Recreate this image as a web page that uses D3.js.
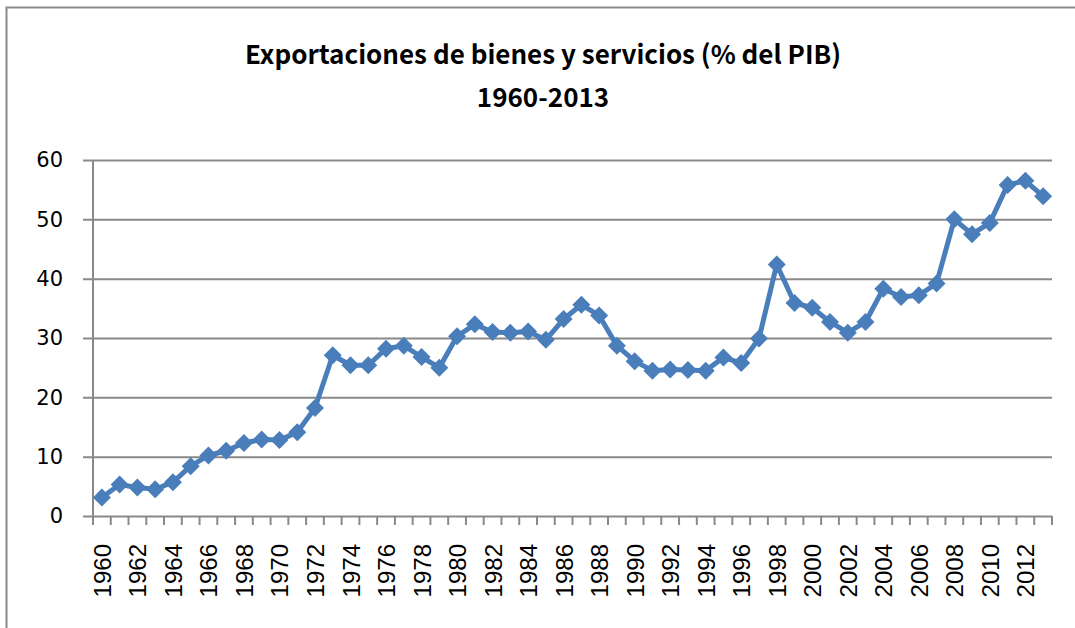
<!DOCTYPE html>
<html>
<head>
<meta charset="utf-8">
<script src="https://cdn.jsdelivr.net/npm/d3@7"></script>
<style>
  body { margin: 0; background: #fff; }
  svg { display: block; }
</style>
</head>
<body>
<script>
// years on the category axis
var years = d3.range(1960, 2014).map(String);

// exports of goods and services, % of GDP
var exportsPct = [
  3.1, 5.3, 4.8, 4.5, 5.7, 8.4, 10.2, 11.0, 12.3, 12.9,
  12.8, 14.1, 18.2, 27.1, 25.4, 25.4, 28.2, 28.7, 26.8, 25.0,
  30.3, 32.3, 31.0, 30.9, 31.1, 29.7, 33.2, 35.6, 33.8, 28.7,
  26.1, 24.5, 24.7, 24.6, 24.5, 26.7, 25.8, 29.9, 42.4, 35.9,
  35.1, 32.7, 30.9, 32.7, 38.3, 36.9, 37.2, 39.2, 50.0, 47.5,
  49.4, 55.8, 56.5, 53.9
];

var yTicks = [0, 10, 20, 30, 40, 50, 60];
var titleLines = ["Exportaciones de bienes y servicios (% del PIB)", "1960-2013"];

var width = 1075, height = 628;
var margin = { top: 160, right: 23, bottom: 112, left: 93 };
var gray = "#898989";
var blue = "#4a7ebb";

var svg = d3.select("body").append("svg")
    .attr("width", width)
    .attr("height", height);

// outer chart frame
svg.append("rect")
    .attr("x", 6.5).attr("y", 7.5)
    .attr("width", 1100).attr("height", 700)
    .attr("fill", "#fff")
    .attr("stroke", gray)
    .attr("stroke-width", 2);

svg.selectAll("text.title")
    .data(titleLines)
    .enter().append("text")
    .attr("class", "title")
    .attr("x", 543)
    .attr("y", (d, i) => 64 + i * 43)
    .attr("text-anchor", "middle")
    .style("font-family", "'Noto Sans CJK KR', 'Noto Sans', sans-serif")
    .style("font-weight", "bold")
    .style("font-size", "26px")
    .attr("fill", "#000")
    .text(d => d);

var x = d3.scaleBand()
    .domain(years)
    .range([margin.left, width - margin.right]);

var y = d3.scaleLinear()
    .domain([0, 60])
    .range([height - margin.bottom, margin.top]);

// gridlines + y axis
var yAxis = d3.axisLeft(y)
    .tickValues(yTicks)
    .tickSize(-(width - margin.right - margin.left))
    .tickSizeOuter(0)
    .tickPadding(30)
    .tickFormat(d3.format("d"));

var gy = svg.append("g")
    .attr("transform", "translate(" + margin.left + ",0)")
    .call(yAxis);

gy.select(".domain").remove();
gy.selectAll(".tick line")
    .attr("x1", -10)
    .attr("stroke", gray)
    .attr("stroke-width", 2);
gy.selectAll(".tick text")
    .style("font-family", "'DejaVu Sans', sans-serif")
    .style("font-size", "21px")
    .attr("fill", "#000");

svg.append("line")
    .attr("x1", margin.left).attr("x2", margin.left)
    .attr("y1", y(60)).attr("y2", y(0))
    .attr("stroke", gray)
    .attr("stroke-width", 2);

// x axis: tick marks on category boundaries
var boundaries = years.map(d => x(d)).concat([x.range()[1]]);
svg.append("g")
    .selectAll("line")
    .data(boundaries)
    .enter().append("line")
    .attr("x1", d => d).attr("x2", d => d)
    .attr("y1", y(0)).attr("y2", y(0) + 9)
    .attr("stroke", gray)
    .attr("stroke-width", 2);

svg.append("g")
    .selectAll("text")
    .data(years.filter((d, i) => i % 2 === 0))
    .enter().append("text")
    .attr("transform", d => "translate(" + (x(d) + x.bandwidth() / 2 + 9) + "," + (y(0) + 28) + ") rotate(-90)")
    .attr("text-anchor", "end")
    .style("font-family", "'Liberation Sans', Arial, sans-serif")
    .style("font-size", "24px")
    .attr("fill", "#000")
    .text(d => d);

// series
var line = d3.line()
    .x((d, i) => x(years[i]) + x.bandwidth() / 2)
    .y(d => y(d));

svg.append("path")
    .datum(exportsPct)
    .attr("d", line)
    .attr("fill", "none")
    .attr("stroke", blue)
    .attr("stroke-width", 5)
    .attr("stroke-linejoin", "round");

var r = 9;
svg.append("g")
    .selectAll("path")
    .data(exportsPct)
    .enter().append("path")
    .attr("transform", (d, i) => "translate(" + (x(years[i]) + x.bandwidth() / 2) + "," + y(d) + ")")
    .attr("d", "M0," + (-r) + "L" + r + ",0L0," + r + "L" + (-r) + ",0Z")
    .attr("fill", blue);
</script>
</body>
</html>
